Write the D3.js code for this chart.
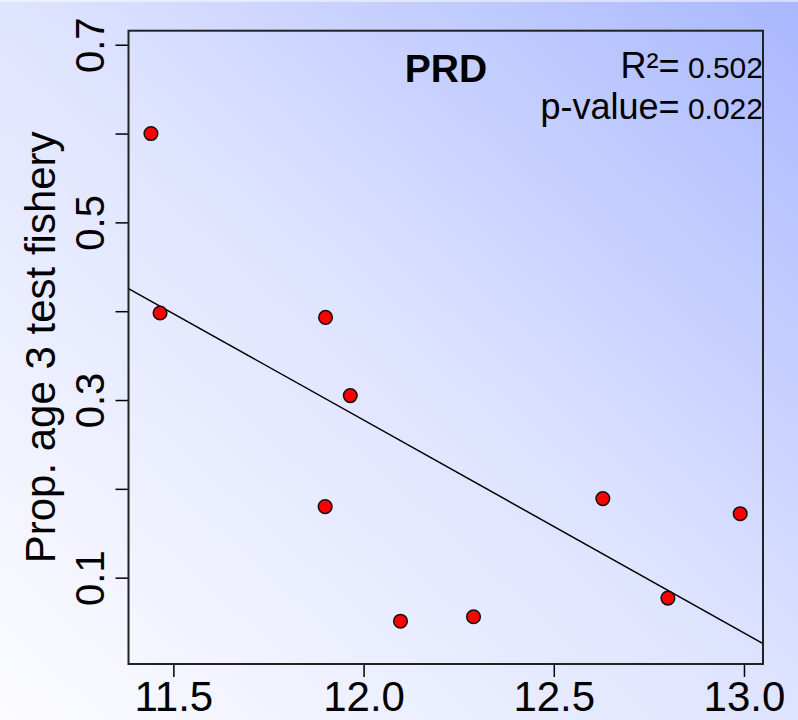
<!DOCTYPE html>
<html>
<head>
<meta charset="utf-8">
<script src="https://cdn.jsdelivr.net/npm/d3@7"></script>
<style>
  html, body { margin: 0; padding: 0; }
  body { width: 798px; height: 720px; overflow: hidden; }
  text { font-family: "Liberation Sans", Arial, sans-serif; }
</style>
</head>
<body>
<div id="plot_svg"></div>
<script>
// values
var sizeVals = [11.441, 11.465, 11.900, 11.965, 11.899, 12.097, 12.289, 12.629, 12.800, 12.990];
var propVals = [0.600, 0.398, 0.393, 0.305, 0.180, 0.051, 0.056, 0.189, 0.077, 0.172];
var xTicks = [11.5, 12.0, 12.5, 13.0];
var yTicks = [0.1, 0.2, 0.3, 0.4, 0.5, 0.6, 0.7];
var yLabelled = [0.1, 0.3, 0.5, 0.7];
var panelTitle = "PRD";
var rSquared = "0.502";
var pValue = "0.022";

drawScatter();

function drawScatter(){
    const margin = {top: 30.7, right: 35, bottom: 56, left: 128.5};
    const fullW = 798, fullH = 720;
    const width = fullW - margin.left - margin.right;
    const height = fullH - margin.top - margin.bottom;

    var root = d3.select('#plot_svg')
        .append("svg")
            .attr("width", fullW)
            .attr("height", fullH);

    // background gradient (light bottom-left to blue top-right)
    var grad = root.append("defs").append("linearGradient")
        .attr("id", "bg")
        .attr("x1", "0%").attr("y1", "100%")
        .attr("x2", "100%").attr("y2", "0%");
    grad.append("stop").attr("offset", "0%").attr("stop-color", "#fcfcff");
    grad.append("stop").attr("offset", "50%").attr("stop-color", "#dfe4ff");
    grad.append("stop").attr("offset", "100%").attr("stop-color", "#a9b8fe");

    root.append("rect")
        .attr("width", fullW).attr("height", fullH)
        .attr("fill", "url(#bg)");
    root.append("rect")
        .attr("width", fullW).attr("height", 2)
        .attr("fill", "#ffffff").attr("opacity", 0.5);

    var svg = root.append("g")
        .attr("transform", `translate(${margin.left}, ${margin.top})`);

    var xScale = d3.scaleLinear()
        .domain([11.382, 13.05])
        .range([0, width]);

    var yScale = d3.scaleLinear()
        .domain([0.0028, 0.7158])
        .range([height, 0]);

    //x axis
    var xAxis = svg.append("g")
        .attr("transform", "translate(0," + height + ")")
        .call(d3.axisBottom(xScale).tickValues(xTicks).tickSize(13).tickFormat(d3.format(".1f")));
    xAxis.select(".domain").remove();
    xAxis.selectAll("line").attr("stroke", "#000").attr("stroke-width", 1.5);
    xAxis.selectAll("text")
        .attr("y", 47).attr("dy", 0)
        .attr("fill", "#000")
        .style("font-size", "42px");

    //y axis
    var yAxis = svg.append("g")
        .call(d3.axisLeft(yScale).tickValues(yTicks).tickSize(13)
            .tickFormat(d => yLabelled.some(v => Math.abs(v - d) < 1e-9) ? d3.format(".1f")(d) : ""));
    yAxis.select(".domain").remove();
    yAxis.selectAll("line").attr("stroke", "#000").attr("stroke-width", 1.5);
    yAxis.selectAll("text")
        .attr("x", 0).attr("dy", 0)
        .attr("transform", "translate(-25,0) rotate(-90)")
        .attr("text-anchor", "middle")
        .attr("fill", "#000")
        .style("font-size", "40px");

    //y axis title
    root.append("text")
        .attr("transform", `translate(55, ${margin.top + height / 2}) rotate(-90)`)
        .attr("text-anchor", "middle")
        .style("font-size", "42px")
        .style("fill", "black")
        .text("Prop. age 3 test fishery");

    //regression line
    var mx = d3.mean(sizeVals), my = d3.mean(propVals);
    var sxy = d3.sum(sizeVals, (v, i) => (v - mx) * (propVals[i] - my));
    var sxx = d3.sum(sizeVals, v => (v - mx) * (v - mx));
    var slope = sxy / sxx;
    var intercept = my - slope * mx;
    var ends = xScale.domain().map(x => ({x: x, y: intercept + slope * x}));

    svg.append("clipPath").attr("id", "box")
        .append("rect").attr("width", width).attr("height", height);

    svg.append("path")
        .datum(ends)
        .attr("clip-path", "url(#box)")
        .attr("fill", "none")
        .attr("stroke", "black")
        .attr("stroke-width", 1.5)
        .attr("d", d3.line()
            .x(d => xScale(d.x))
            .y(d => yScale(d.y)));

    //points
    svg.selectAll(".dot")
        .data(sizeVals.map((x, i) => ({x: x, y: propVals[i]})))
        .join("circle")
        .attr("class", "dot")
        .attr("cx", d => xScale(d.x))
        .attr("cy", d => yScale(d.y))
        .attr("r", 6.8)
        .attr("fill", "#ff0000")
        .attr("stroke", "#111")
        .attr("stroke-width", 1.5);

    //plot box
    svg.append("rect")
        .attr("width", width).attr("height", height)
        .attr("fill", "none")
        .attr("stroke", "#222")
        .attr("stroke-width", 2);

    //panel label
    svg.append("text")
        .attr("x", 446 - margin.left)
        .attr("y", 82 - margin.top)
        .attr("text-anchor", "middle")
        .style("font-size", "39px")
        .style("font-weight", "bold")
        .text(panelTitle);

    //stats
    var r2 = svg.append("text")
        .attr("x", width)
        .attr("y", 78 - margin.top)
        .attr("text-anchor", "end")
        .style("font-size", "36px");
    r2.append("tspan").text("R\u00b2=");
    r2.append("tspan").style("font-size", "30px").text(" " + rSquared);

    var pv = svg.append("text")
        .attr("x", width)
        .attr("y", 119 - margin.top)
        .attr("text-anchor", "end")
        .style("font-size", "36px");
    pv.append("tspan").text("p-value=");
    pv.append("tspan").style("font-size", "30px").text(" " + pValue);
}
</script>
</body>
</html>
